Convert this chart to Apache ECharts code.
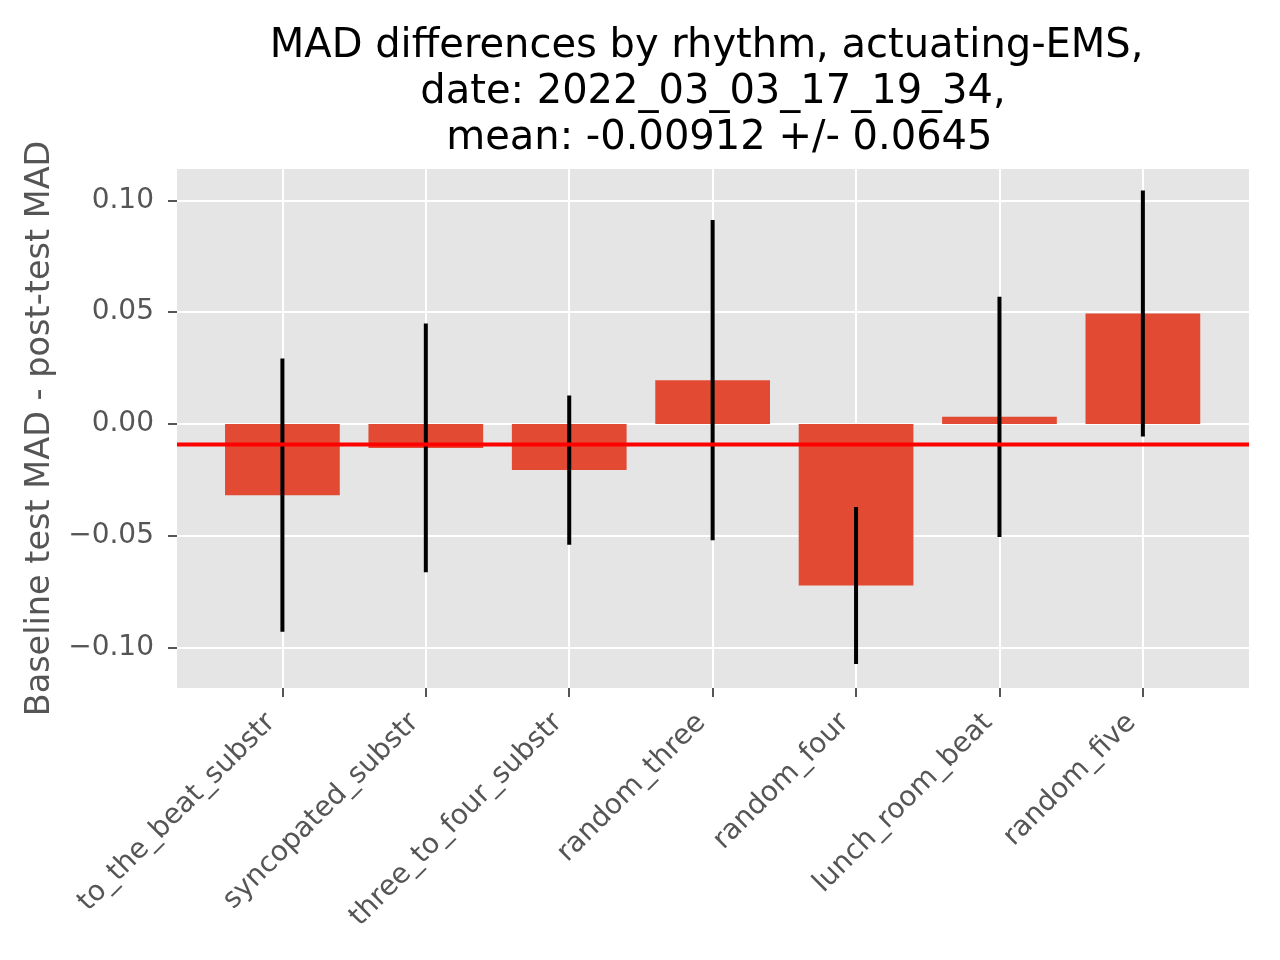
<!DOCTYPE html>
<html lang="en">
<head>
    <meta charset="UTF-8">
    <title>MAD differences by rhythm</title>
    <script src="https://cdn.jsdelivr.net/npm/echarts@6/dist/echarts.min.js"></script>
    <style>
        body { margin: 0; background: #fff; }
    </style>
</head>
<body>
<div id="main" style="width: 1280px;height:960px;"></div>
<script type="text/javascript">
    // rhythm names (x categories)
    var rhythms = ['to_the_beat_substr', 'syncopated_substr', 'three_to_four_substr',
        'random_three', 'random_four', 'lunch_room_beat', 'random_five'];
    // baseline MAD - post-test MAD
    var madDiff = [-0.0318, -0.0107, -0.0206, 0.0196, -0.0722, 0.0032, 0.0494];
    // error bar half-lengths
    var madErr = [0.0611, 0.0556, 0.0334, 0.0716, 0.0351, 0.0537, 0.0550];
    var meanDiff = [-0.00912];
    var yTicks = [-0.10, -0.05, 0.00, 0.05, 0.10];

    var font = 'DejaVu Sans';
    var barW = 0.8;
    var xMin = -0.735, xMax = 6.74;
    var xPos = rhythms.map(function (n, i) { return i; });

    var myChart = echarts.init(document.getElementById('main'));

    var gridLines = yTicks.map(function (v) { return {yAxis: v}; })
        .concat(xPos.map(function (i) { return {xAxis: i}; }));

    myChart.setOption({
        animation: false,
        backgroundColor: '#ffffff',
        title: {
            text: 'MAD differences by rhythm, actuating-EMS, \ndate: 2022_03_03_17_19_34,\n mean: -0.00912 +/- 0.0645',
            left: 708,
            top: 19,
            textAlign: 'center',
            textStyle: {
                fontFamily: font,
                fontSize: 40,
                fontWeight: 'normal',
                lineHeight: 46,
                color: '#000'
            }
        },
        grid: {
            left: 177, right: 31, top: 169, bottom: 272,
            show: true,
            backgroundColor: '#E5E5E5',
            borderWidth: 0
        },
        xAxis: {
            type: 'value',
            min: xMin,
            max: xMax,
            axisLine: {show: false, onZero: false},
            splitLine: {show: false},
            axisTick: {
                show: true, length: 9, customValues: xPos,
                lineStyle: {color: '#555', width: 2}
            },
            axisLabel: {
                customValues: xPos,
                rotate: 45,
                margin: 19,
                padding: [0, 16, 0, 0],
                fontFamily: font,
                fontSize: 28,
                color: '#555',
                formatter: function (v) { return rhythms[Math.round(v)]; }
            }
        },
        yAxis: {
            type: 'value',
            min: -0.118,
            max: 0.114,
            name: 'Baseline test MAD - post-test MAD',
            nameLocation: 'middle',
            nameRotate: 90,
            nameGap: 117,
            nameTextStyle: {fontFamily: font, fontSize: 33.5, color: '#555', lineHeight: 33},
            axisLine: {show: false, onZero: false},
            splitLine: {show: false},
            axisTick: {
                show: true, length: 9, customValues: yTicks,
                lineStyle: {color: '#555', width: 2}
            },
            axisLabel: {
                customValues: yTicks,
                margin: 23,
                fontFamily: font,
                fontSize: 28,
                color: '#555',
                formatter: function (v) {
                    return (v < -1e-9 ? '\u2212' : '') + Math.abs(v).toFixed(2);
                }
            }
        },
        series: [{
            name: 'bars',
            type: 'custom',
            z: 2,
            clip: true,
            data: madDiff.map(function (v, i) { return [i, v]; }),
            encode: {x: 0, y: 1},
            renderItem: function (params, api) {
                var x = api.value(0), v = api.value(1);
                var p0 = api.coord([x - barW / 2, 0]);
                var p1 = api.coord([x + barW / 2, v]);
                return {
                    type: 'rect',
                    shape: {
                        x: Math.min(p0[0], p1[0]), y: Math.min(p0[1], p1[1]),
                        width: Math.abs(p1[0] - p0[0]), height: Math.abs(p1[1] - p0[1])
                    },
                    style: {fill: '#E24A33'}
                };
            },
            // white grid lines behind the bars
            markLine: {
                z: 1,
                silent: true,
                symbol: 'none',
                label: {show: false},
                lineStyle: {color: '#ffffff', width: 2, type: 'solid'},
                data: gridLines
            }
        }, {
            name: 'errors',
            type: 'custom',
            z: 3,
            clip: true,
            data: madDiff.map(function (v, i) { return [i, v - madErr[i], v + madErr[i]]; }),
            encode: {x: 0, y: [1, 2]},
            renderItem: function (params, api) {
                var x = api.value(0);
                var lo = api.coord([x, api.value(1)]);
                var hi = api.coord([x, api.value(2)]);
                return {
                    type: 'line',
                    shape: {x1: lo[0], y1: lo[1], x2: hi[0], y2: hi[1]},
                    style: {stroke: '#000', lineWidth: 4}
                };
            }
        }, {
            name: 'mean',
            type: 'custom',
            z: 4,
            clip: true,
            data: meanDiff.map(function (m) { return [0, m]; }),
            encode: {y: 1},
            renderItem: function (params, api) {
                var m = api.value(1);
                var a = api.coord([xMin, m]);
                var b = api.coord([xMax, m]);
                return {
                    type: 'line',
                    shape: {x1: a[0], y1: a[1], x2: b[0], y2: b[1]},
                    style: {stroke: '#FF0000', lineWidth: 4}
                };
            }
        }]
    });
</script>
</body>
</html>
